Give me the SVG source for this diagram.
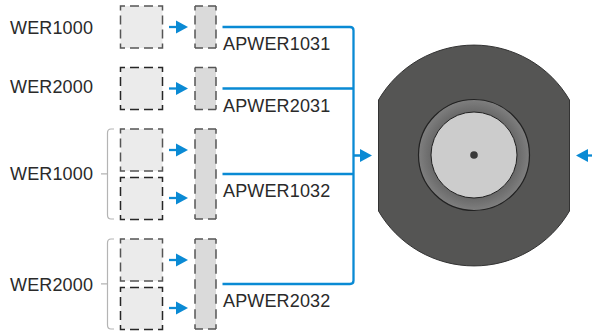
<svg xmlns="http://www.w3.org/2000/svg" width="592" height="333" viewBox="0 0 592 333">
<style>
.t{font-family:"Liberation Sans",Arial,sans-serif;font-size:18px;letter-spacing:.15px;fill:#2a2a2a}
.a{fill:#ebebeb;stroke-width:1.5;stroke-dasharray:9 5;stroke-dashoffset:4.5}
.d1{stroke:#555}
.d2{stroke:#262626}
.f{fill:#dadada}
.s{fill:none;stroke:#555;stroke-width:1.5;stroke-dasharray:16 5;stroke-dashoffset:8}
.v{fill:none;stroke:#555;stroke-width:1.5;stroke-dasharray:9 5;stroke-dashoffset:4.5}
.w{fill:none;stroke:#555;stroke-width:1.5;stroke-dasharray:9.500 5.500;stroke-dashoffset:4.75}
.c{fill:none;stroke:#0a8ad4;stroke-width:2.3}
.h{fill:#0a8ad4}
.g{fill:none;stroke:#b4b4b4;stroke-width:1.2}
</style>
<defs>
<g id="arr"><path class="c" d="M169 0H177"/><path class="h" d="M176 -6.500L188 0L176 6.500Z"/></g>
<radialGradient id="ring" gradientUnits="userSpaceOnUse" cx="474" cy="155" r="56"><stop offset="0.77" stop-color="#696969"/><stop offset="1" stop-color="#808080"/></radialGradient>
</defs>
<g id="label-wer1000-a"><text class="t" x="10" y="34">WER1000</text></g>
<g id="label-wer2000-a"><text class="t" x="10" y="93">WER2000</text></g>
<g id="label-wer1000-b"><text class="t" x="10" y="180">WER1000</text></g>
<g id="label-wer2000-b"><text class="t" x="10" y="291">WER2000</text></g>
<g id="bracket-1"><path class="g" d="M114 129H111Q107.500 129 107.500 133V215Q107.500 219 111 219H114M101 173.800H107.500"/></g>
<g id="bracket-2"><path class="g" d="M114 239H111Q107.500 239 107.500 243V325Q107.500 329 111 329H114M101 283.800H107.500"/></g>
<g id="box-1"><rect class="a d1" x="120.500" y="6" width="42" height="42"/></g>
<g id="box-2"><rect class="a d2" x="120.500" y="67.500" width="42" height="42"/></g>
<g id="box-3"><rect class="a d1" x="120.500" y="129" width="42" height="42"/></g>
<g id="box-4"><rect class="a d2" x="120.500" y="177.500" width="42" height="42"/></g>
<g id="box-5"><rect class="a d1" x="120.500" y="239" width="42" height="42"/></g>
<g id="box-6"><rect class="a d2" x="120.500" y="287.500" width="42" height="42"/></g>
<g id="bar-1"><rect class="f" x="195" y="6" width="21" height="42"/><path class="s" d="M195 6H216M195 48H216"/><path class="v" d="M195 6V48M216 6V48"/></g>
<g id="bar-2"><rect class="f" x="195" y="67.500" width="21" height="42"/><path class="s" d="M195 67.500H216M195 109.500H216"/><path class="v" d="M195 67.500V109.500M216 67.500V109.500"/></g>
<g id="bar-3"><rect class="f" x="195" y="129" width="21" height="90"/><path class="s" d="M195 129H216M195 219H216"/><path class="w" d="M195 129V219M216 129V219"/></g>
<g id="bar-4"><rect class="f" x="195" y="239" width="21" height="90"/><path class="s" d="M195 239H216M195 329H216"/><path class="w" d="M195 239V329M216 239V329"/></g>
<g id="connectors">
<use href="#arr" y="27"/><use href="#arr" y="88.500"/><use href="#arr" y="150"/><use href="#arr" y="198"/><use href="#arr" y="260"/><use href="#arr" y="308"/>
<path class="c" d="M222.500 27H350Q353.500 27 353.500 30.500V280.500Q353.500 284 350 284H222.500M222.500 88.500H353.500M222.500 174H353.500M353.500 155.500H362"/>
<path class="h" d="M360 149L372 155.500L360 162Z"/>
<path class="c" d="M592 155.500H584"/>
<path class="h" d="M588 149L576 155.500L588 162Z"/>
</g>
<g id="label-ap1"><text class="t" x="223" y="50">APWER1031</text></g>
<g id="label-ap2"><text class="t" x="223" y="112">APWER2031</text></g>
<g id="label-ap3"><text class="t" x="223" y="197">APWER1032</text></g>
<g id="label-ap4"><text class="t" x="223" y="307">APWER2032</text></g>
<g id="cross-section">
<path d="M378.500 100A110.500 110.500 0 0 1 569.500 100V211A110.500 110.500 0 0 1 378.500 211Z" fill="#555554" stroke="#333" stroke-width="1"/>
<circle cx="474" cy="155" r="55.500" fill="url(#ring)" stroke="#222" stroke-width="1.200"/>
<circle cx="474" cy="155" r="43" fill="#cccccc" stroke="#222" stroke-width="1"/>
<circle cx="474" cy="155" r="3.800" fill="#3a3a3a"/>
</g>
</svg>
